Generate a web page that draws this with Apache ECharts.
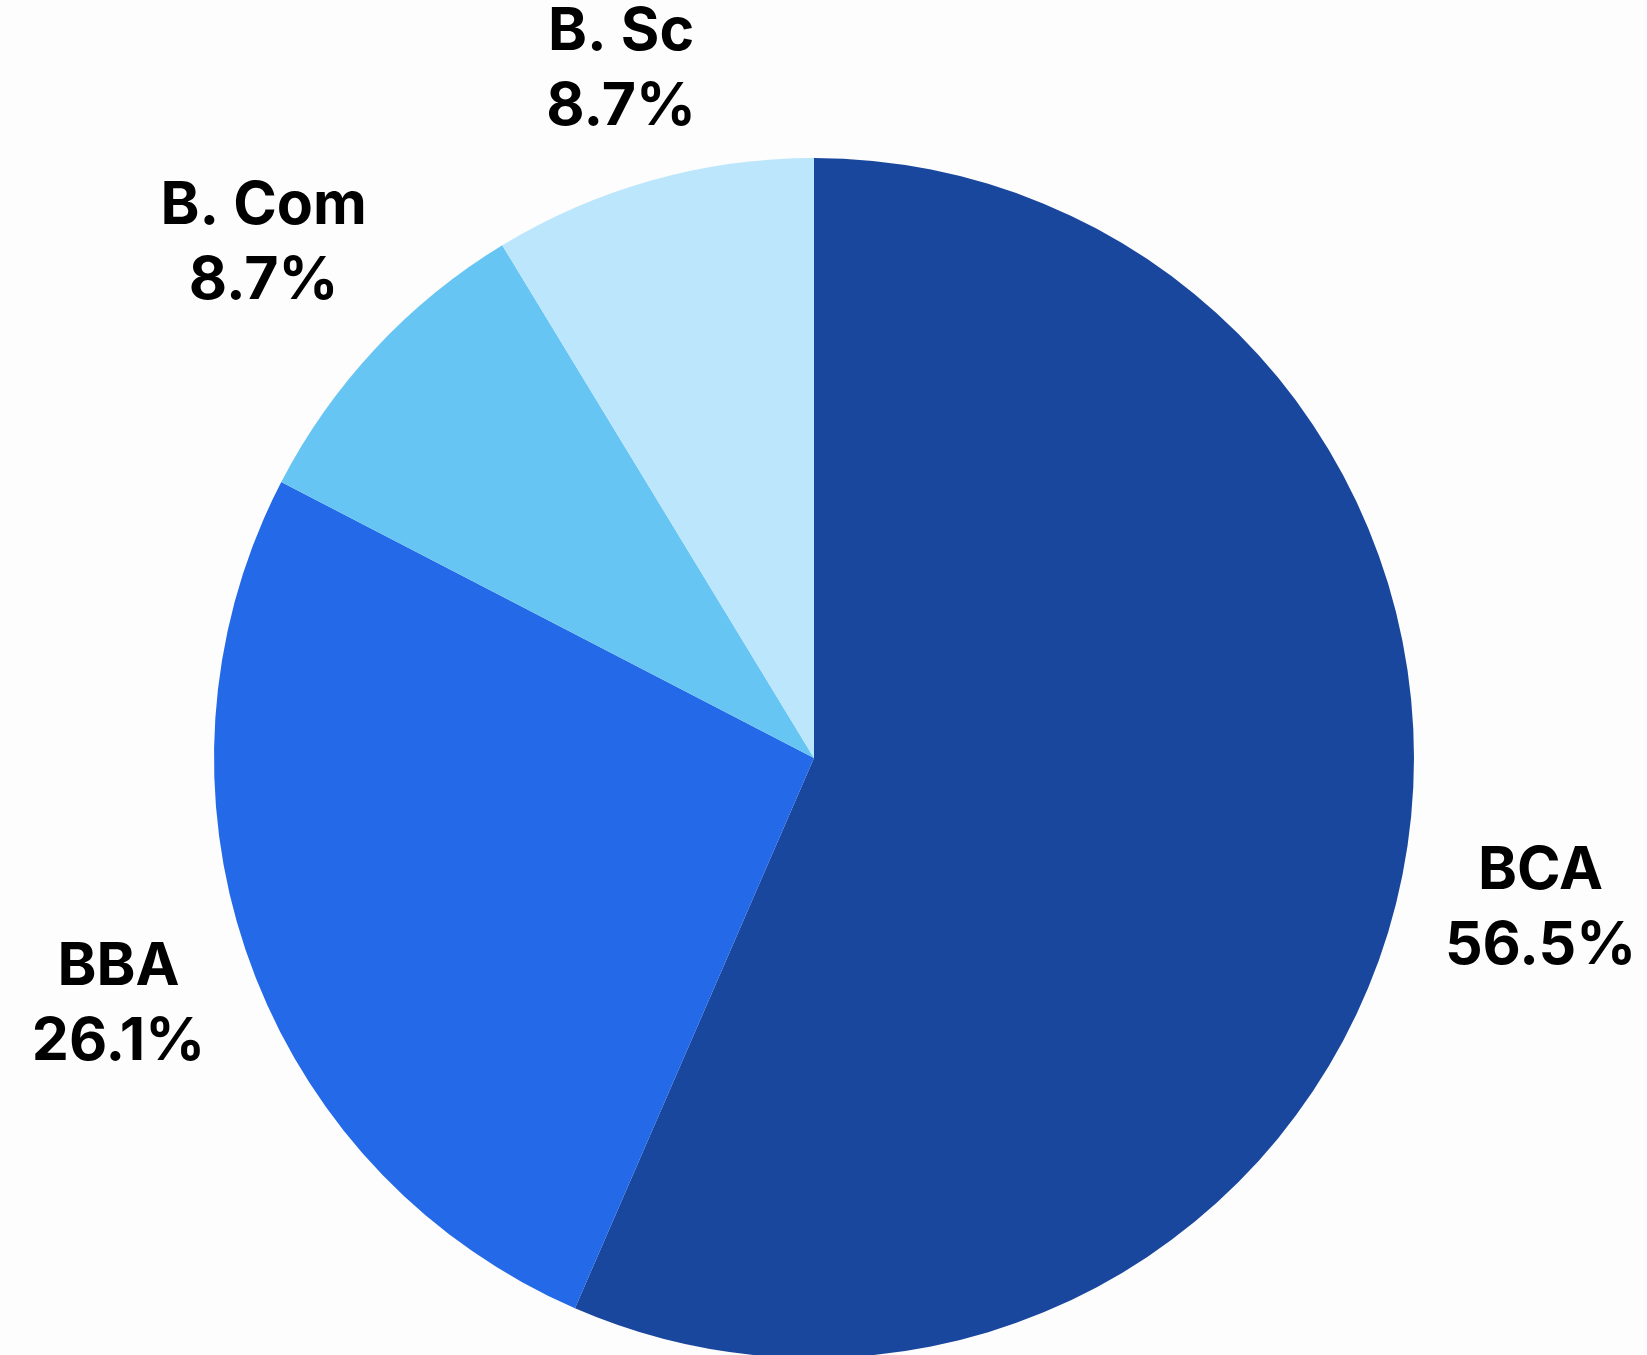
<!DOCTYPE html>
<html>
<head>
<meta charset="utf-8">
<title>Course share</title>
<script src="https://cdn.jsdelivr.net/npm/echarts@6/dist/echarts.min.js"></script>
<style>
    html, body { margin: 0; padding: 0; background: #fdfdfd; }
    #chart { width: 1647px; height: 1355px; }
</style>
</head>
<body>
<div id="chart"></div>
<script>
    // data
    const courses = ['BCA', 'BBA', 'B. Com', 'B. Sc'];
    const students = [13, 6, 2, 2];
    const colors = ['#1a479e', '#2369e8', '#66c5f3', '#bbe6fc'];

    const pieRadius = 600;
    const gap = 36; // space between pie edge and label box

    let chart = echarts.init(document.getElementById('chart'));

    let option = {
        backgroundColor: '#fdfdfd',
        color: colors,
        series: [
            {
                type: 'pie',
                center: [814, 758],
                radius: pieRadius,
                startAngle: 90,
                clockwise: true,
                percentPrecision: 1,
                avoidLabelOverlap: false,
                silent: true,
                label: {
                    show: true,
                    position: 'outside',
                    formatter: '{b}\n{d}%',
                    fontFamily: 'Inter',
                    fontWeight: 'bold',
                    fontSize: 59,
                    lineHeight: 75,
                    color: '#000',
                    align: 'center'
                },
                labelLine: {
                    show: true,
                    length: 10,
                    length2: 0,
                    lineStyle: { opacity: 0 }
                },
                labelLayout: function (params) {
                    let pts = params.labelLinePoints;
                    if (!pts) return {};
                    let dx = pts[1][0] - pts[0][0];
                    let dy = pts[1][1] - pts[0][1];
                    let len = Math.sqrt(dx * dx + dy * dy) || 1;
                    dx /= len;
                    dy /= len;
                    let cx = pts[0][0] - dx * pieRadius;
                    let cy = pts[0][1] - dy * pieRadius;
                    // visible ink box is a bit shorter than the line box
                    let w = params.labelRect.width, h = params.labelRect.height - 28;
                    let dist = pieRadius + gap + Math.abs(dx) * w / 2 + Math.abs(dy) * h / 2;
                    return {
                        x: cx + dx * dist,
                        y: cy + dy * dist,
                        align: 'center',
                        verticalAlign: 'middle'
                    };
                },
                data: courses.map(function (name, i) {
                    return { name: name, value: students[i] };
                })
            }
        ]
    };
    chart.setOption(option);
    window.addEventListener('resize', function () {
        chart.resize();
    });
</script>
</body>
</html>
